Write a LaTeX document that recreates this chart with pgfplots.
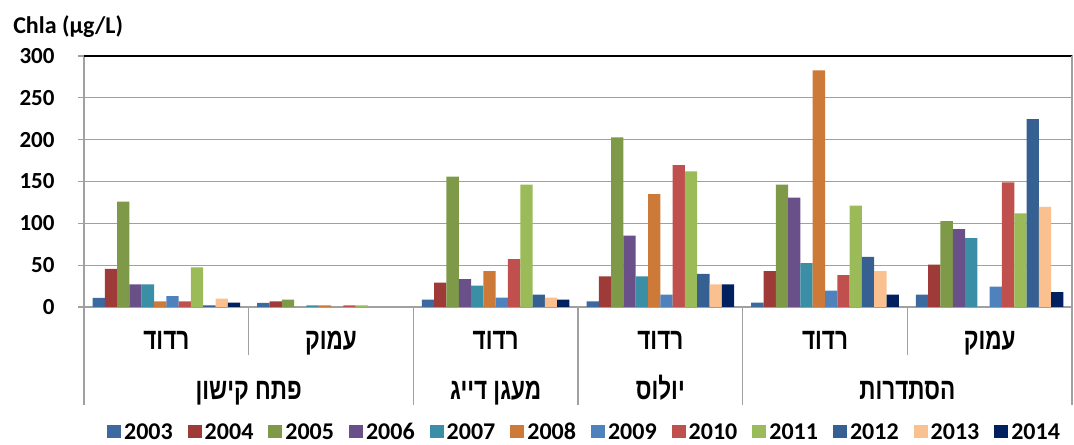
\documentclass[border=0pt]{standalone}
\usepackage{fontspec}
\setmainfont{Carlito}
\newfontfamily\hebfont[Script=Hebrew, FakeStretch=0.75]{Liberation Sans}
\TeXXeTstate=1
\usepackage{pgfplots}
\pgfplotsset{compat=1.18}
\newcommand{\heb}[1]{{\hebfont\bfseries\fontsize{15}{16}\selectfont\beginR #1\endR}}
\definecolor{c03}{RGB}{60,106,160}
\definecolor{c04}{RGB}{158,59,56}
\definecolor{c05}{RGB}{126,154,72}
\definecolor{c06}{RGB}{106,80,137}
\definecolor{c07}{RGB}{58,143,166}
\definecolor{c08}{RGB}{205,122,56}
\definecolor{c09}{RGB}{79,129,189}
\definecolor{c10}{RGB}{192,80,77}
\definecolor{c11}{RGB}{155,187,89}
\definecolor{c12}{RGB}{54,96,146}
\definecolor{c13}{RGB}{250,192,144}
\definecolor{c14}{RGB}{0,32,96}
\definecolor{gridc}{RGB}{160,160,160}
\begin{document}
\begin{tikzpicture}
\begin{axis}[
  scale only axis, width=494pt, height=125.5pt,
  xmin=0, xmax=6, ymin=0, ymax=300,
  ytick={0,50,...,300}, xtick=\empty,
  ybar=0pt, bar width=6.15pt,
  ymajorgrids, grid style={gridc, line width=0.6pt},
  axis line style={gridc, line width=0.6pt},
  tick style={gridc, line width=0.6pt},
  major tick length=3pt, tick align=outside,
  ytick pos=left,
  /pgf/number format/assume math mode=true,
  yticklabel style={font=\bfseries\fontsize{11.5}{12}\selectfont, xshift=-8.2pt},
  clip=false,
  legend columns=12,
  legend style={at={(axis description cs:0.5056,-0.498)}, anchor=center, draw=none,
    inner xsep=0pt, inner ysep=0pt,
    font=\bfseries\fontsize{12}{13}\selectfont,
    nodes={inner sep=0pt, text height=7.8pt, text depth=0pt},
    /tikz/every even column/.append style={column sep=7.5pt},
    /tikz/every odd column/.append style={column sep=1.5pt}},
  legend image code/.code={\fill[#1,draw=none] (0pt,-3.25pt) rectangle (7pt,3.25pt);},
]
\addplot[fill=c03,draw=none] coordinates {(0.5,11) (1.5,5) (2.5,8.7) (3.5,6.8) (4.5,5.2) (5.5,14.7)};
\addplot[fill=c04,draw=none] coordinates {(0.5,45.7) (1.5,6.8) (2.5,29) (3.5,36.6) (4.5,43) (5.5,50.5)};
\addplot[fill=c05,draw=none] coordinates {(0.5,126) (1.5,8.7) (2.5,155.7) (3.5,202.6) (4.5,146.2) (5.5,102.5)};
\addplot[fill=c06,draw=none] coordinates {(0.5,27) (2.5,33.4) (3.5,85.4) (4.5,130.7) (5.5,93)};
\addplot[fill=c07,draw=none] coordinates {(0.5,27) (1.5,2) (2.5,25.4) (3.5,36.6) (4.5,52.4) (5.5,82.2)};
\addplot[fill=c08,draw=none] coordinates {(0.5,6.8) (1.5,2) (2.5,43) (3.5,135) (4.5,282.9)};
\addplot[fill=c09,draw=none] coordinates {(0.5,13) (2.5,11.1) (3.5,14.7) (4.5,19.5) (5.5,24.2)};
\addplot[fill=c10,draw=none] coordinates {(0.5,6.8) (1.5,2) (2.5,57.2) (3.5,169.6) (4.5,38) (5.5,149)};
\addplot[fill=c11,draw=none] coordinates {(0.5,47.3) (1.5,2) (2.5,146.2) (3.5,162) (4.5,121.2) (5.5,112)};
\addplot[fill=c12,draw=none] coordinates {(0.5,2) (2.5,14.7) (3.5,39.7) (4.5,60) (5.5,224.5)};
\addplot[fill=c13,draw=none] coordinates {(0.5,10) (2.5,11.1) (3.5,27) (4.5,43) (5.5,119.6)};
\addplot[fill=c14,draw=none] coordinates {(0.5,5.2) (2.5,8.7) (3.5,27) (4.5,14.7) (5.5,17.9)};
\legend{2003,2004,2005,2006,2007,2008,2009,2010,2011,2012,2013,2014}
% frame
\draw[black, line width=0.6pt] (rel axis cs:0,1) -- (rel axis cs:1,1);
\draw[gridc, line width=0.6pt] (rel axis cs:1,1) -- (rel axis cs:1,0) -- ++(0,-49pt);
\draw[gridc, line width=0.6pt] (rel axis cs:0,0) -- ++(0,-49pt);
\draw[gridc, line width=0.6pt] (axis cs:2,0) -- ++(0,-49pt);
\draw[gridc, line width=0.6pt] (axis cs:3,0) -- ++(0,-49pt);
\draw[gridc, line width=0.6pt] (axis cs:4,0) -- ++(0,-49pt);
\draw[gridc, line width=0.6pt] (axis cs:1,0) -- ++(0,-24pt);
\draw[gridc, line width=0.6pt] (axis cs:5,0) -- ++(0,-24pt);
% inner labels
\node[anchor=base] at (axis cs:0.5,0) [yshift=-21.5pt] {\heb{רדוד}};
\node[anchor=base] at (axis cs:1.5,0) [yshift=-21.5pt] {\heb{עמוק}};
\node[anchor=base] at (axis cs:2.5,0) [yshift=-21.5pt] {\heb{רדוד}};
\node[anchor=base] at (axis cs:3.5,0) [yshift=-21.5pt] {\heb{רדוד}};
\node[anchor=base] at (axis cs:4.5,0) [yshift=-21.5pt] {\heb{רדוד}};
\node[anchor=base] at (axis cs:5.5,0) [yshift=-21.5pt] {\heb{עמוק}};
% outer labels
\node[anchor=base] at (axis cs:1,0) [yshift=-46.5pt] {\heb{פתח קישון}};
\node[anchor=base] at (axis cs:2.5,0) [yshift=-46.5pt] {\heb{מעגן דייג}};
\node[anchor=base] at (axis cs:3.5,0) [yshift=-46.5pt] {\heb{יולוס}};
\node[anchor=base] at (axis cs:5,0) [yshift=-46.5pt] {\heb{הסתדרות}};
% y title
\node[anchor=west, font=\bfseries\fontsize{12}{13}\selectfont] at (rel axis cs:0,1) [xshift=-38.9pt, yshift=14.5pt] {Chla (µg/L)};
\coordinate (bl) at (rel axis cs:0,0);
\coordinate (tr) at (rel axis cs:1,1);
\end{axis}
\pgfresetboundingbox
\path ([xshift=-42pt,yshift=-69pt]bl) rectangle ([xshift=1pt,yshift=28pt]tr);
\end{tikzpicture}
\end{document}
